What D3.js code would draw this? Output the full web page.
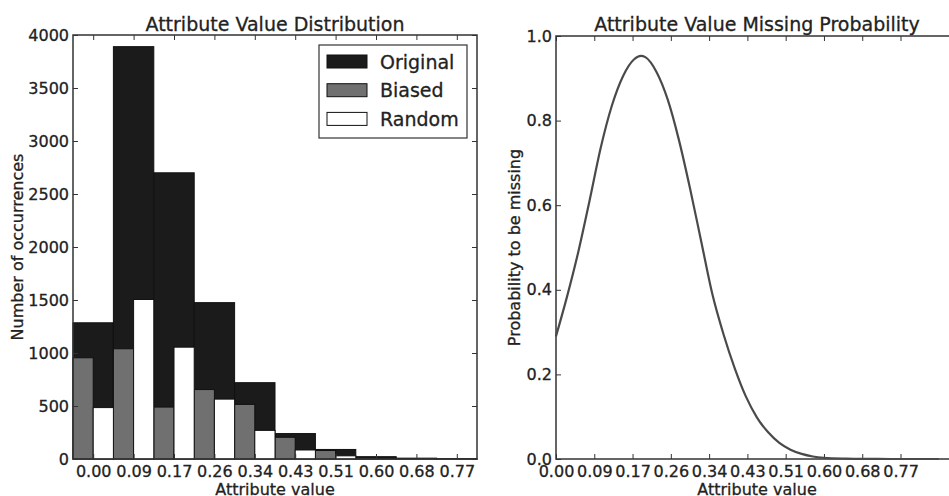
<!DOCTYPE html>
<html>
<head>
<meta charset="utf-8">
<script src="https://cdn.jsdelivr.net/npm/d3@7"></script>
<style>
  html, body { margin: 0; padding: 0; background: #fff; }
  svg { display: block; font-family: "DejaVu Sans", sans-serif; }
</style>
</head>
<body>
<svg id="chart" width="949" height="496"></svg>
<script>
// histogram bins (left edge values shown as tick labels)
const binLabels = ['0.00', '0.09', '0.17', '0.26', '0.34', '0.43', '0.51', '0.60', '0.68', '0.77'];
const binWidth = 0.0857;
const originalCounts = [1285, 3890, 2700, 1475, 720, 240, 90, 22, 8, 3];
const biasedCounts = [955, 1040, 490, 655, 515, 205, 80, 12, 4, 1];
const randomCounts = [485, 1505, 1055, 565, 270, 85, 30, 8, 3, 1];
const countTicks = [0, 500, 1000, 1500, 2000, 2500, 3000, 3500, 4000];

// missing probability curve
const probX = [0, 0.025, 0.05, 0.075, 0.1, 0.125, 0.15, 0.175, 0.19, 0.2, 0.225, 0.25, 0.275, 0.3, 0.325,
  0.35, 0.375, 0.4, 0.425, 0.45, 0.475, 0.5, 0.525, 0.55, 0.575, 0.6, 0.65, 0.7, 0.75, 0.8, 0.857];
const probY = [0.29, 0.385, 0.49, 0.61, 0.735, 0.835, 0.905, 0.945, 0.953, 0.95, 0.915, 0.85, 0.755, 0.64, 0.515,
  0.39, 0.295, 0.215, 0.148, 0.098, 0.063, 0.038, 0.022, 0.012, 0.006, 0.003, 0.001, 0.0003, 0, 0, 0];
const probTicks = [0, 0.2, 0.4, 0.6, 0.8, 1.0];

(function () {
  'use strict';

  const svg = d3.select('#chart');
  const ink = '#222';
  const frame = '#333';

  function drawText(x, y, str, size, anchor, rotate) {
    const t = svg.append('text')
      .attr('x', x)
      .attr('y', y)
      .attr('font-size', size)
      .attr('fill', ink)
      .attr('stroke', ink)
      .attr('stroke-width', 0.3)
      .attr('text-anchor', anchor || 'middle')
      .text(str);
    if (rotate) t.attr('transform', 'rotate(' + rotate + ',' + x + ',' + y + ')');
    return t;
  }

  // ---------- left: histogram ----------
  const L = { left: 73, right: 477, top: 35, bottom: 459 };
  const xL = d3.scaleLinear().domain([0, binWidth * binLabels.length]).range([L.left, L.right]);
  const yL = d3.scaleLinear().domain([0, 4000]).range([L.bottom, L.top]);
  const bins = binLabels.map(function (lab, i) {
    return { i: i, x0: i * binWidth, x1: (i + 1) * binWidth, o: originalCounts[i], b: biasedCounts[i], r: randomCounts[i] };
  });

  const gL = svg.append('g');
  gL.selectAll('rect.orig')
    .data(bins)
    .join('rect')
    .attr('class', 'orig')
    .attr('x', function (d) { return xL(d.x0); })
    .attr('width', function (d) { return xL(d.x1) - xL(d.x0); })
    .attr('y', function (d) { return yL(d.o); })
    .attr('height', function (d) { return yL(0) - yL(d.o); })
    .attr('fill', '#1b1b1b')
    .attr('stroke', '#111')
    .attr('stroke-width', 1);

  gL.selectAll('rect.bias')
    .data(bins)
    .join('rect')
    .attr('class', 'bias')
    .attr('x', function (d) { return xL(d.x0); })
    .attr('width', function (d) { return (xL(d.x1) - xL(d.x0)) / 2; })
    .attr('y', function (d) { return yL(d.b); })
    .attr('height', function (d) { return yL(0) - yL(d.b); })
    .attr('fill', '#707070')
    .attr('stroke', '#111')
    .attr('stroke-width', 1);

  gL.selectAll('rect.rand')
    .data(bins)
    .join('rect')
    .attr('class', 'rand')
    .attr('x', function (d) { return (xL(d.x0) + xL(d.x1)) / 2; })
    .attr('width', function (d) { return (xL(d.x1) - xL(d.x0)) / 2; })
    .attr('y', function (d) { return yL(d.r); })
    .attr('height', function (d) { return yL(0) - yL(d.r); })
    .attr('fill', '#fff')
    .attr('stroke', '#111')
    .attr('stroke-width', 1);

  const centers = bins.map(function (d) { return (d.x0 + d.x1) / 2; });

  // axes (ticks point inward, as in classic matplotlib)
  gL.append('g')
    .attr('transform', 'translate(0,' + L.bottom + ')')
    .call(d3.axisBottom(xL).tickValues(centers).tickSize(-5).tickPadding(7)
      .tickFormat(function (d, i) { return binLabels[i]; }));
  gL.append('g')
    .attr('transform', 'translate(0,' + L.top + ')')
    .call(d3.axisTop(xL).tickValues(centers).tickSize(-5).tickFormat(''));
  gL.append('g')
    .attr('transform', 'translate(' + L.left + ',0)')
    .call(d3.axisLeft(yL).tickValues(countTicks).tickSize(-5).tickPadding(4).tickFormat(d3.format('d')));
  gL.append('g')
    .attr('transform', 'translate(' + L.right + ',0)')
    .call(d3.axisRight(yL).tickValues(countTicks).tickSize(-5).tickFormat(''));

  gL.append('rect')
    .attr('x', L.left).attr('y', L.top)
    .attr('width', L.right - L.left).attr('height', L.bottom - L.top)
    .attr('fill', 'none').attr('stroke', frame).attr('stroke-width', 1.5);

  drawText((L.left + L.right) / 2, 31, 'Attribute Value Distribution', 19);
  drawText((L.left + L.right) / 2, 495, 'Attribute value', 16);
  drawText(23, (L.top + L.bottom) / 2, 'Number of occurrences', 16, 'middle', -90);

  // legend
  const legendItems = [
    { label: 'Original', fill: '#1b1b1b' },
    { label: 'Biased', fill: '#707070' },
    { label: 'Random', fill: '#fff' }
  ];
  const lg = svg.append('g').attr('transform', 'translate(319,45)');
  lg.append('rect')
    .attr('width', 148).attr('height', 93)
    .attr('fill', '#fff').attr('stroke', frame).attr('stroke-width', 1.2);
  const item = lg.selectAll('g.item')
    .data(legendItems)
    .join('g')
    .attr('class', 'item')
    .attr('transform', function (d, i) { return 'translate(0,' + (16.5 + i * 28.7) + ')'; });
  item.append('rect')
    .attr('x', 8).attr('y', -6.5).attr('width', 40).attr('height', 13)
    .attr('fill', function (d) { return d.fill; })
    .attr('stroke', '#111').attr('stroke-width', 1);
  item.append('text')
    .attr('x', 61).attr('y', 7)
    .attr('font-size', 19).attr('fill', ink)
    .attr('stroke', ink).attr('stroke-width', 0.3)
    .text(function (d) { return d.label; });

  // ---------- right: probability curve ----------
  const R = { left: 556, right: 958, top: 36, bottom: 459 };
  const xR = d3.scaleLinear().domain([0, 0.9]).range([R.left, R.right]);
  const yR = d3.scaleLinear().domain([0, 1]).range([R.bottom, R.top]);
  const xTicksR = binLabels.map(function (lab, i) { return i * binWidth; });

  const gR = svg.append('g');
  gR.append('g')
    .attr('transform', 'translate(0,' + R.bottom + ')')
    .call(d3.axisBottom(xR).tickValues(xTicksR).tickSize(-5).tickPadding(7)
      .tickFormat(function (d, i) { return binLabels[i]; }));
  gR.append('g')
    .attr('transform', 'translate(0,' + R.top + ')')
    .call(d3.axisTop(xR).tickValues(xTicksR).tickSize(-5).tickFormat(''));
  gR.append('g')
    .attr('transform', 'translate(' + R.left + ',0)')
    .call(d3.axisLeft(yR).tickValues(probTicks).tickSize(-5).tickPadding(4).tickFormat(d3.format('.1f')));

  gR.append('rect')
    .attr('x', R.left).attr('y', R.top)
    .attr('width', R.right - R.left).attr('height', R.bottom - R.top)
    .attr('fill', 'none').attr('stroke', frame).attr('stroke-width', 1.5);

  const pts = probX.map(function (x, i) { return [x, probY[i]]; });
  gR.append('path')
    .datum(pts)
    .attr('fill', 'none')
    .attr('stroke', '#4a4a4a')
    .attr('stroke-width', 2.2)
    .attr('d', d3.line()
      .x(function (d) { return xR(d[0]); })
      .y(function (d) { return yR(d[1]); })
      .curve(d3.curveMonotoneX));

  drawText((R.left + R.right) / 2, 31, 'Attribute Value Missing Probability', 19);
  drawText((R.left + R.right) / 2, 495, 'Attribute value', 16);
  drawText(520, (R.top + R.bottom) / 2, 'Probability to be missing', 16, 'middle', -90);

  // axis styling
  svg.selectAll('.domain').remove();
  svg.selectAll('.tick line').attr('stroke', frame).attr('stroke-width', 1);
  svg.selectAll('.tick text')
    .attr('font-size', 16)
    .attr('font-family', '"DejaVu Sans", sans-serif')
    .attr('fill', ink)
    .attr('stroke', ink)
    .attr('stroke-width', 0.3);
})();
</script>
</body>
</html>
